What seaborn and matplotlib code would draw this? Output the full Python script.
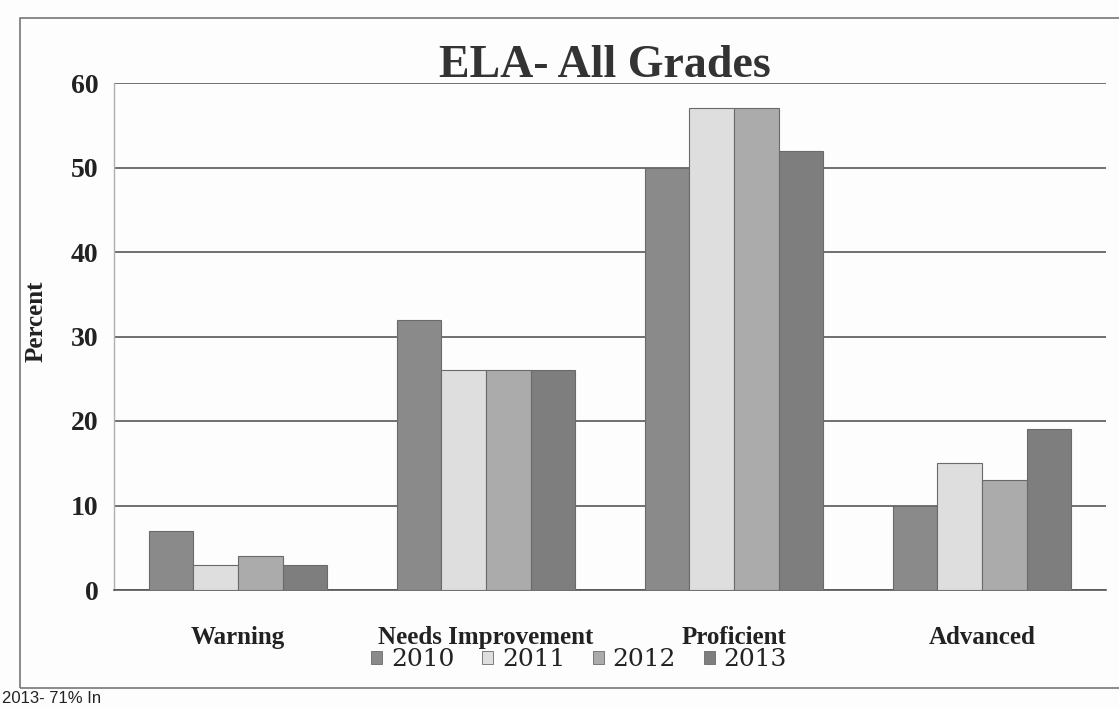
import matplotlib
matplotlib.use("Agg")
import matplotlib.pyplot as plt
from matplotlib.patches import Rectangle
import pandas as pd
import seaborn as sns

# Performance levels and the share of students (%) at each level per year
levels = ["Warning", "Needs Improvement", "Proficient", "Advanced"]
years = ["2010", "2011", "2012", "2013"]
pct_2010 = [7, 32, 50, 10]
pct_2011 = [3, 26, 57, 15]
pct_2012 = [4, 26, 57, 13]
pct_2013 = [3, 26, 52, 19]
year_colors = ["#8a8a8a", "#dedede", "#ababab", "#7e7e7e"]
y_ticks = [0, 10, 20, 30, 40, 50, 60]

series = {"2010": pct_2010, "2011": pct_2011, "2012": pct_2012, "2013": pct_2013}
df = pd.DataFrame(
    [(lvl, yr, vals[i]) for yr, vals in series.items() for i, lvl in enumerate(levels)],
    columns=["level", "year", "percent"],
)

sns.set_theme(style="white")
plt.rcParams["font.family"] = ["Liberation Serif", "DejaVu Serif"]
plt.rcParams["text.color"] = "#222222"

W, H = 1119, 708
fig = plt.figure(figsize=(W / 100, H / 100), dpi=100)
fig.patch.set_facecolor("#fdfdfd")

x0, x1, y_top, y_bot = 114, 1106, 83, 590
ax = fig.add_axes([x0 / W, 1 - y_bot / H, (x1 - x0) / W, (y_bot - y_top) / H])
ax.set_facecolor("#fdfdfd")

sns.barplot(
    data=df, x="level", y="percent", hue="year", hue_order=years,
    palette=year_colors, width=0.72, gap=0, edgecolor="#6a6a6a",
    linewidth=0.8, saturation=1, legend=False, ax=ax, zorder=3,
)

ax.set_ylim(0, 60)
ax.set_xlim(-0.5, 3.5)
ax.set_yticks(y_ticks)
ax.set_yticklabels([str(t) for t in y_ticks])
ax.yaxis.grid(True, color="#4a4a4a", linewidth=1.1, zorder=0)
ax.xaxis.grid(False)
for s in ["top", "right"]:
    ax.spines[s].set_visible(False)
ax.spines["left"].set_color("#b0b0b0")
ax.spines["left"].set_linewidth(1.0)
ax.spines["bottom"].set_color("#555555")
ax.spines["bottom"].set_linewidth(1.2)

ax.tick_params(axis="y", length=8, width=1.0, color="#555555", pad=3,
               labelsize=20, labelcolor="#222222")
for t in ax.get_yticklabels():
    t.set_fontweight("bold")
ax.tick_params(axis="x", which="major", length=0, pad=26, labelsize=18,
               labelcolor="#222222")
for t in ax.get_xticklabels():
    t.set_fontweight("bold")
ax.set_xticks([0.5, 1.5, 2.5, 3.5], minor=True)
ax.tick_params(axis="x", which="minor", length=6, width=1.0, color="#666666",
               direction="out")

ax.set_xlabel("")
ax.set_ylabel("Percent", fontsize=18, fontweight="bold", color="#222222")
ax.yaxis.set_label_coords((48 - x0) / (x1 - x0), 0.53)

fig.text(605 / W, 1 - 66 / H, "ELA- All Grades", ha="center", va="center",
         fontsize=33, fontweight="bold", color="#333333")

handles = [Rectangle((0, 0), 1, 1, facecolor=c, edgecolor="#6a6a6a", linewidth=0.6)
           for c in year_colors]
fig.legend(handles, years, loc="center", bbox_to_anchor=(579 / W, 1 - 660 / H),
           ncol=4, frameon=False, handlelength=0.45, handleheight=0.45,
           handletextpad=0.35, columnspacing=1.1,
           prop={"family": "DejaVu Serif", "size": 18})

# Chart frame
fig.add_artist(Rectangle((20 / W, 1 - 688 / H), (1130 - 20) / W, (688 - 18) / H,
                         transform=fig.transFigure, fill=False,
                         edgecolor="#777777", linewidth=1.2))

# Start of the caption line that follows the chart
fig.text(2 / W, 1 - 706 / H, "2013- 71% In", ha="left", va="bottom",
         fontsize=12, color="#222222", family=["Liberation Sans", "DejaVu Sans"])

fig.savefig("out.png", dpi=100, facecolor=fig.get_facecolor())
